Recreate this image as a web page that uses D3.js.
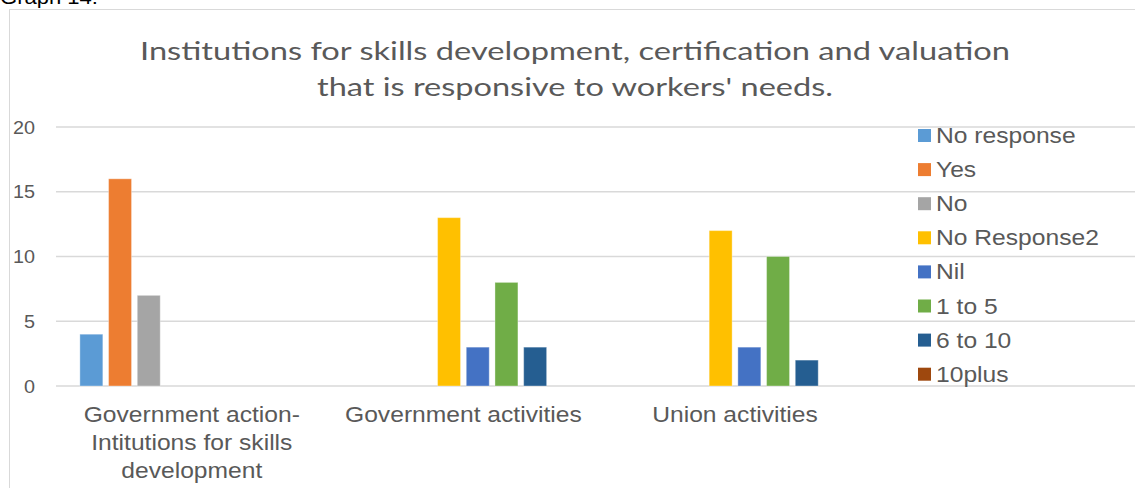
<!DOCTYPE html>
<html>
<head>
<meta charset="utf-8">
<script src="https://cdn.jsdelivr.net/npm/d3@7"></script>
<style>
  html, body { margin: 0; padding: 0; background: #fff; overflow: hidden; }
  svg { display: block; }
</style>
</head>
<body>
<svg id="chart" width="1135" height="488"></svg>
<script>
// Survey counts per question group and answer type
const categories = [
  "Government action-Intitutions for skills development",
  "Government activities",
  "Union activities"
];
const categoryLines = [
  ["Government action-", "Intitutions for skills", "development"],
  ["Government activities"],
  ["Union activities"]
];
const seriesNames = ["No response", "Yes", "No", "No Response2", "Nil", "1 to 5", "6 to 10", "10plus"];
const noResponse  = [4, null, null];
const yes         = [16, null, null];
const no          = [7, null, null];
const noResponse2 = [null, 13, 12];
const nil         = [null, 3, 3];
const oneToFive   = [null, 8, 10];
const sixToTen    = [null, 3, 2];
const tenPlus     = [null, null, null];
const seriesValues = [noResponse, yes, no, noResponse2, nil, oneToFive, sixToTen, tenPlus];
const seriesColors = ["#5B9BD5", "#ED7D31", "#A5A5A5", "#FFC000", "#4472C4", "#70AD47", "#255E91", "#9E480E"];
const yTicks = [0, 5, 10, 15, 20];
const titleLines = [
  "Institutions for skills development, certification and valuation",
  "that is responsive to workers' needs."
];

const W = 1135, H = 488;
const svg = d3.select("#chart");
const textGray = "#595959";
const gridGray = "#d9d9d9";
const sans = "'Liberation Sans', Arial, sans-serif";

// text drawn with a slight horizontal widening
function wideText(parent, x, y, str, opts) {
  const g = parent.append("g")
    .attr("transform", `translate(${x},${y}) scale(${opts.sx || 1},1)`);
  return g.append("text")
    .attr("x", 0).attr("y", 0)
    .attr("text-anchor", opts.anchor || "start")
    .attr("font-family", opts.family || sans)
    .attr("font-size", opts.size)
    .attr("fill", opts.fill || textGray)
    .text(str);
}

// caption above the frame
wideText(svg, 0, 4, "Graph 14:", { size: 21, sx: 1.05, fill: "#000" });

// chart frame
svg.append("rect")
  .attr("x", 9.5).attr("y", 9.5)
  .attr("width", 1300).attr("height", 700)
  .attr("fill", "#fff").attr("stroke", gridGray).attr("stroke-width", 1);

// scales
const plotLeft = 56, bandW = 271.6;
const x0 = d3.scaleBand().domain(categories)
  .range([plotLeft, plotLeft + bandW * categories.length]);
const x1 = d3.scaleBand().domain(seriesNames)
  .range([21, bandW - 21]).paddingInner(0.2).paddingOuter(0.1);
const y = d3.scaleLinear().domain([0, 20]).range([386, 127]);

// gridlines
svg.append("g").selectAll("line").data(yTicks).join("line")
  .attr("x1", plotLeft).attr("x2", W)
  .attr("y1", d => y(d)).attr("y2", d => y(d))
  .attr("stroke", gridGray).attr("stroke-width", 1.3);

// y tick labels
const yAxisG = svg.append("g");
yTicks.forEach(t => {
  wideText(yAxisG, 35, y(t) + 6.5, String(t), { size: 18, sx: 1.1, anchor: "end" });
});

// bars
const bars = [];
seriesNames.forEach((s, si) => {
  categories.forEach((c, ci) => {
    const v = seriesValues[si][ci];
    if (v != null) bars.push({ s, c, v, color: seriesColors[si] });
  });
});
svg.append("g").selectAll("rect").data(bars).join("rect")
  .attr("x", d => x0(d.c) + x1(d.s))
  .attr("width", x1.bandwidth())
  .attr("y", d => y(d.v))
  .attr("height", d => y(0) - y(d.v))
  .attr("fill", d => d.color)
  .attr("stroke", "#fff").attr("stroke-opacity", 0.35).attr("stroke-width", 1);

// category labels
const catG = svg.append("g");
categories.forEach((c, ci) => {
  const cx = x0(c) + x0.bandwidth() / 2;
  categoryLines[ci].forEach((line, li) => {
    wideText(catG, cx, 422 + li * 28, line, { size: 22, sx: 1.12, anchor: "middle" });
  });
});

// title
const titleG = svg.append("g");
const titleWidths = [870, 516];
titleLines.forEach((line, i) => {
  titleG.append("text")
    .attr("x", 575).attr("y", 60 + i * 36)
    .attr("text-anchor", "middle")
    .attr("font-family", "Lato, 'Open Sans', sans-serif")
    .attr("font-size", 25)
    .attr("fill", textGray)
    .attr("textLength", titleWidths[i])
    .attr("lengthAdjust", "spacingAndGlyphs")
    .text(line);
});

// legend
const legY = d3.scalePoint().domain(seriesNames).range([135.5, 135.5 + 34.1 * 7]);
const legG = svg.append("g");
seriesNames.forEach((s, i) => {
  legG.append("rect")
    .attr("x", 918).attr("y", legY(s) - 6.5)
    .attr("width", 13).attr("height", 13)
    .attr("fill", seriesColors[i]);
  wideText(legG, 936, legY(s) + 7.5, s, { size: 22, sx: 1.12 });
});
</script>
</body>
</html>
